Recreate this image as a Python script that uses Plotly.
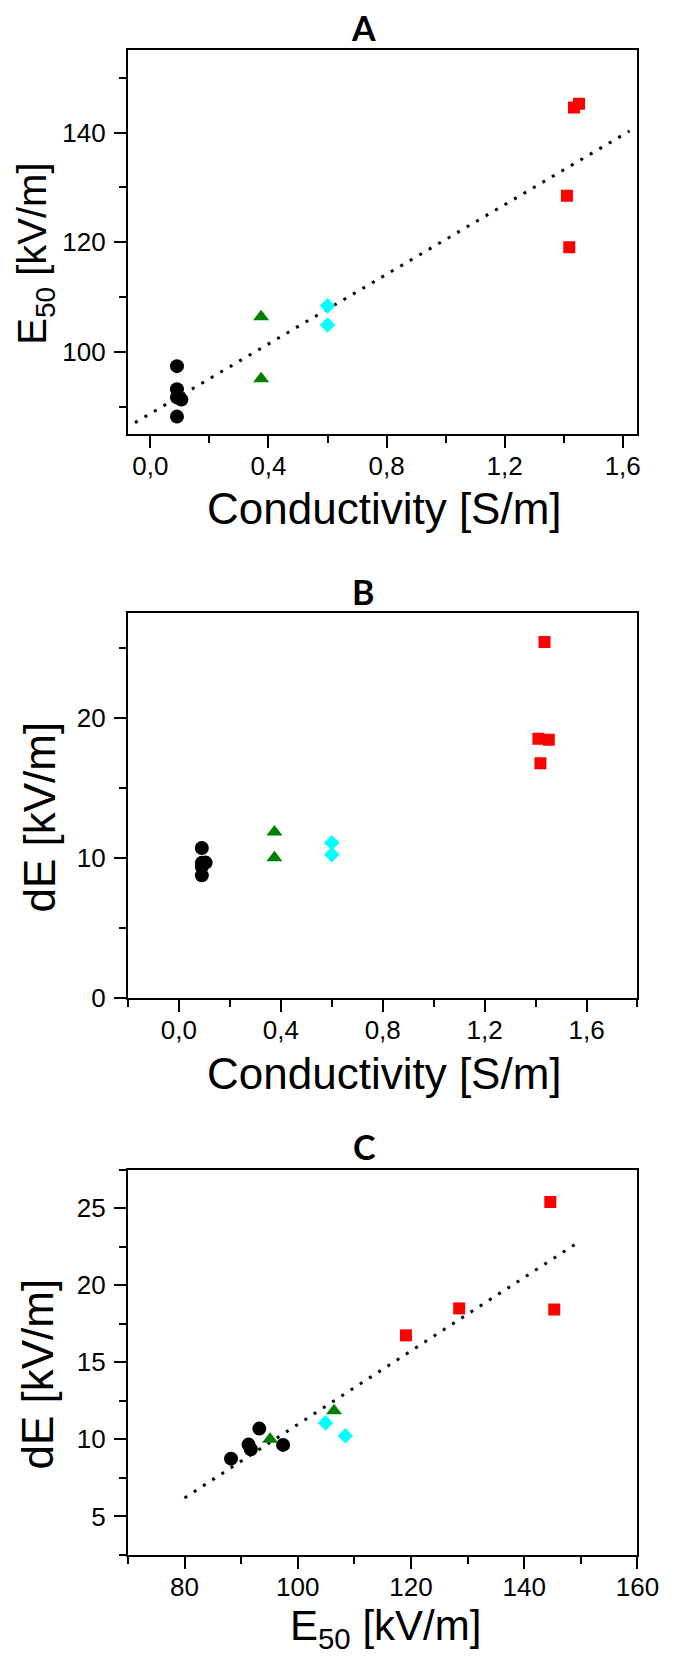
import plotly.graph_objects as go

# ---- data ----
black_cond = [0.09, 0.09, 0.09, 0.105, 0.09]
black_e50 = [97.4, 93.2, 91.7, 91.3, 88.2]
black_de = [9.64, 10.7, 9.36, 9.66, 8.75]

green_cond = [0.375, 0.375]
green_e50 = [106.4, 95.1]
green_de = [11.85, 10.0]

cyan_cond = [0.6, 0.6]
cyan_e50 = [104.9, 108.4]
cyan_de = [11.07, 10.23]

red_cond = [1.411, 1.419, 1.435, 1.452]
red_e50 = [128.5, 119.1, 144.6, 145.3]
red_de = [18.5, 16.75, 25.4, 18.43]

fitA_x = [-0.052, 1.623]
fitA_y = [87.1, 140.3]
fitC_x = [80, 150]
fitC_y = [6.2, 22.9]

cond_ticks = [0.0, 0.4, 0.8, 1.2, 1.6]
cond_ticktext = ["0,0", "0,4", "0,8", "1,2", "1,6"]
cond_minorA = [0.2, 0.6, 1.0, 1.4]
cond_minorB = [-0.2, 0.2, 0.6, 1.0, 1.4, 1.8]
e50_ticks = [100, 120, 140]
e50_minor = [90, 110, 130, 150]
de_ticksB = [0, 10, 20]
de_minorB = [5, 15, 25]
e50x_ticks = [80, 100, 120, 140, 160]
e50x_minor = [70, 90, 110, 130, 150]
de_ticksC = [5, 10, 15, 20, 25]
de_minorC = [2.5, 7.5, 12.5, 17.5, 22.5, 27.5]

W, H = 675, 1664
FONT = "Liberation Sans, Arial, sans-serif"
TITLE_FONT = "Lato, Open Sans, sans-serif"

groups = [
    ("black", "circle", 14),
    ("#008000", "triangle-up", 14),
    ("#00FFFF", "diamond", 12),
    ("#FF0000", "square", 12),
]

fig = go.Figure()

def add_points(xs_list, ys_list, xa, ya):
    for (color, sym, size), xs, ys in zip(groups, xs_list, ys_list):
        fig.add_trace(go.Scatter(x=xs, y=ys, mode="markers", xaxis=xa, yaxis=ya,
                                 marker=dict(color=color, symbol=sym, size=size, line=dict(width=0)),
                                 showlegend=False))

def add_fit(xs, ys, xa, ya):
    fig.add_trace(go.Scatter(x=xs, y=ys, mode="lines", xaxis=xa, yaxis=ya,
                             line=dict(color="black", width=3, dash="3px,8px"),
                             showlegend=False))

# Panel A
add_fit(fitA_x, fitA_y, "x", "y")
add_points([black_cond, green_cond, cyan_cond, red_cond],
           [black_e50, green_e50, cyan_e50, red_e50], "x", "y")
# Panel B
add_points([black_cond, green_cond, cyan_cond, red_cond],
           [black_de, green_de, cyan_de, red_de], "x2", "y2")
# Panel C
add_fit(fitC_x, fitC_y, "x3", "y3")
add_points([black_e50, green_e50, cyan_e50, red_e50],
           [black_de, green_de, cyan_de, red_de], "x3", "y3")

xdom = [124 / W, 650.7 / W]
def ydom(top, bottom):
    return [1 - bottom / H, 1 - top / H]

def axis_style(domain, rng, tickvals, ticktext, minor_vals, anchor, standoff=0):
    return dict(domain=domain, range=rng, tickmode="array", tickvals=tickvals,
                ticktext=ticktext, ticks="outside", ticklen=12, tickwidth=2,
                tickcolor="black", showline=True, linewidth=2, linecolor="black",
                mirror=True, showgrid=False, zeroline=False, anchor=anchor,
                ticklabelstandoff=standoff,
                tickfont=dict(family=FONT, size=26, color="black"),
                minor=dict(tickmode="array", tickvals=minor_vals, ticks="outside",
                           ticklen=7, tickwidth=2, tickcolor="black", showgrid=False))

fig.update_layout(
    width=W, height=H, margin=dict(l=0, r=0, t=0, b=0),
    paper_bgcolor="white", plot_bgcolor="white",
    xaxis=axis_style(xdom, [-0.076, 1.65], cond_ticks, cond_ticktext, cond_minorA, "y", -4),
    yaxis=axis_style(ydom(42.3, 430), [85.0, 155.1], e50_ticks, [str(v) for v in e50_ticks], e50_minor, "x", 3),
    xaxis2=axis_style(xdom, [-0.2, 1.8], cond_ticks, cond_ticktext, cond_minorB, "y2", -4),
    yaxis2=axis_style(ydom(610, 999), [0, 27.5], de_ticksB, [str(v) for v in de_ticksB], de_minorB, "x2", 3),
    xaxis3=axis_style(xdom, [70, 160], e50x_ticks, [str(v) for v in e50x_ticks], e50x_minor, "y3", -4),
    yaxis3=axis_style(ydom(1172.3, 1561), [2.5, 27.5], de_ticksC, [str(v) for v in de_ticksC], de_minorC, "x3", 3),
)

def ann(text, xpx, ypx, size, angle=0, family=FONT, bold=False, xanchor="center", yanchor="middle"):
    fig.add_annotation(text=f"<b>{text}</b>" if bold else text, xref="paper", yref="paper",
                       x=xpx / W, y=1 - ypx / H, xanchor=xanchor, yanchor=yanchor,
                       showarrow=False, textangle=angle,
                       font=dict(family=family, size=size, color="black"))

# panel titles
ann("A", 367, 20, 34, family=TITLE_FONT, bold=True)
ann("B", 367, 589, 34, family=TITLE_FONT, bold=True)
ann("C", 368, 1149, 34, family=TITLE_FONT, bold=True)

# axis titles
ann("Conductivity [S/m]", 389, 505, 44)
ann("Conductivity [S/m]", 389, 1075, 44)
ann("E<sub>50</sub> [kV/m]", 390, H, 42, yanchor="bottom")
ann("E<sub>50</sub> [kV/m]", 0, 248, 40, angle=-90, xanchor="left")
ann("dE [kV/m]", 33, 816, 44, angle=-90)
ann("dE [kV/m]", 31, 1378, 44, angle=-90)

fig.write_html("out.html")
